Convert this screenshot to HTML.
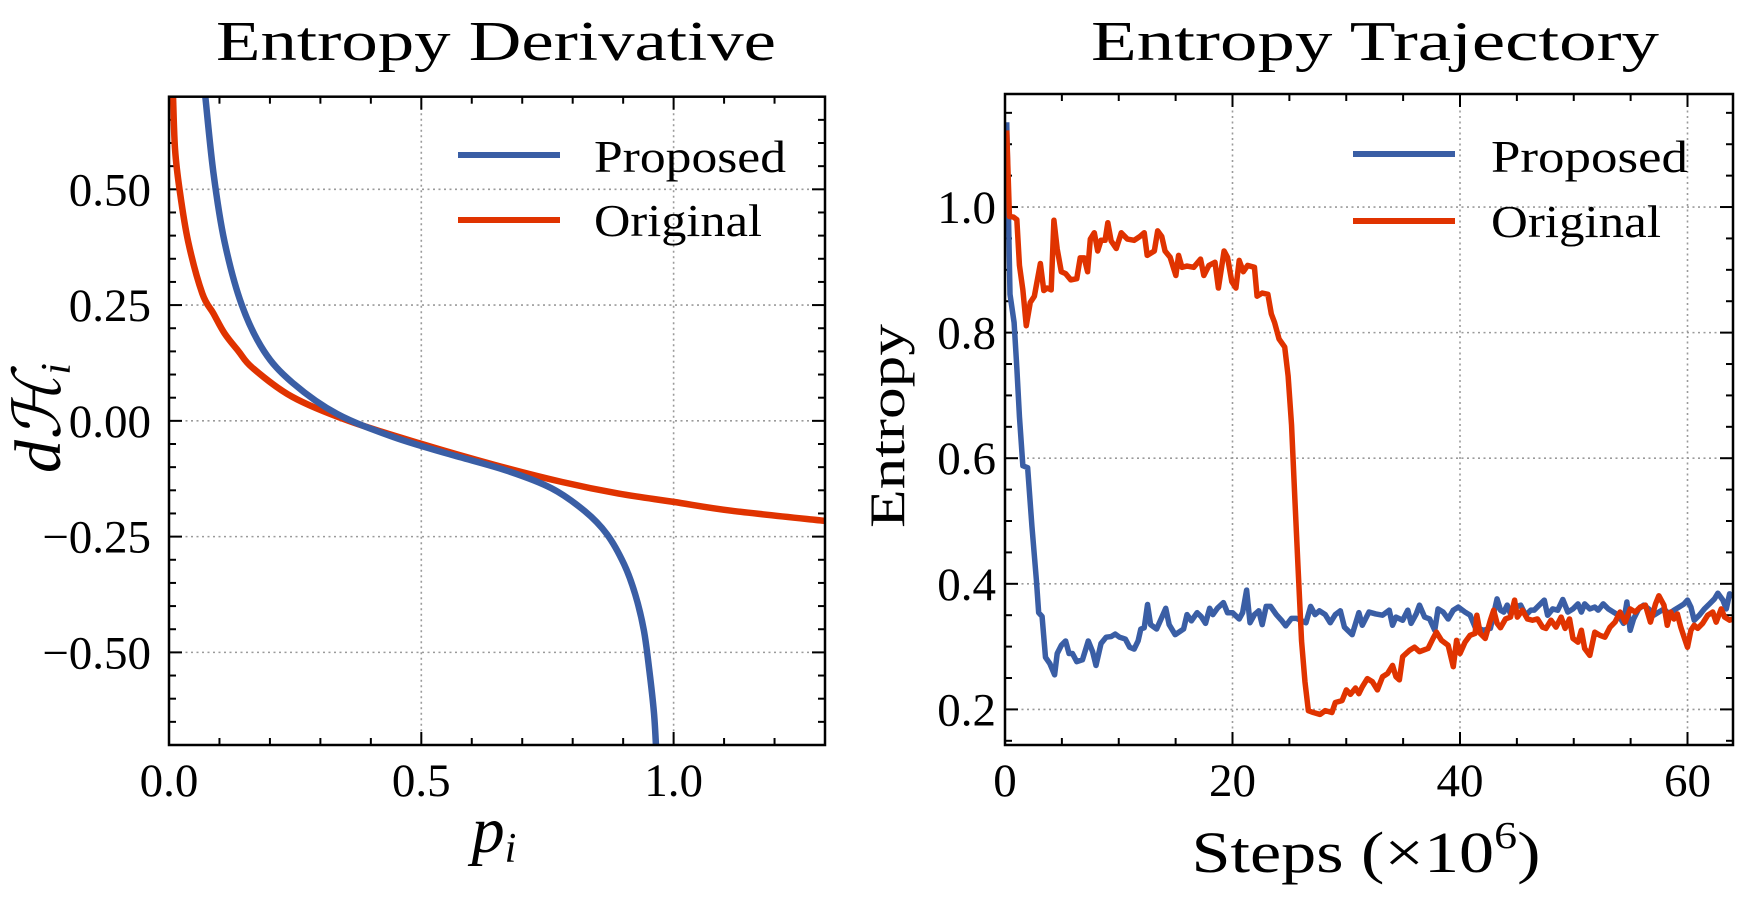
<!DOCTYPE html>
<html><head><meta charset="utf-8"><style>
html,body{margin:0;padding:0;background:#fff;}
svg{display:block;font-family:"Liberation Serif",serif;}
</style></head><body>
<svg id="fig" width="1761" height="901" viewBox="0 0 1761 901" xmlns="http://www.w3.org/2000/svg">
<defs>
<clipPath id="clipL"><rect x="169" y="96.7" width="656" height="648.3"/></clipPath>
<clipPath id="clipR"><rect x="1005" y="94" width="728" height="651"/></clipPath>
</defs>
<g id="left"></g>
<g id="right"></g>
</svg>
<script>
// ---- Left chart data ----
const leftPropP = [0.072,0.088,0.110,0.144,0.188,0.244,0.333,0.445,0.556,0.668,0.757,0.824,0.868,0.902,0.924,0.941,0.952,0.961,0.965];
const leftPropV = [0.70,0.536,0.387,0.251,0.151,0.083,0.015,-0.035,-0.072,-0.107,-0.145,-0.195,-0.245,-0.310,-0.375,-0.452,-0.540,-0.630,-0.70];
const leftOrigP = [0.008,0.012,0.021,0.038,0.066,0.088,0.110,0.138,0.166,0.244,0.356,0.501,0.645,0.779,0.891,1.0,1.114,1.30];
const leftOrigV = [0.70,0.586,0.499,0.387,0.275,0.232,0.189,0.150,0.114,0.052,0.0,-0.050,-0.095,-0.132,-0.157,-0.175,-0.194,-0.216];
const leftXTicks = [0.0,0.5,1.0];
const leftXTickLabels = ["0.0","0.5","1.0"];
const leftYTicks = [0.5,0.25,0,-0.25,-0.5];
const leftYTickLabels = ["0.50","0.25","0.00","\u22120.25","\u22120.50"];

// ---- Right chart data ----
const propSteps = [0.15,0.30,0.44,0.80,1.04,1.27,1.57,1.99,2.37,2.76,2.96,3.26,3.56,3.94,4.36,4.59,4.95,5.33,5.63,5.93,6.31,6.81,7.32,7.70,8.0,8.44,8.89,9.33,9.69,10.07,10.58,10.96,11.35,11.70,11.94,12.24,12.53,12.80,13.33,13.72,14.13,14.43,14.96,15.70,16.0,16.39,16.89,17.24,17.63,17.99,18.28,18.67,19.20,19.56,20.0,20.59,20.89,21.24,21.54,21.93,22.31,22.61,22.96,23.35,23.85,24.30,24.68,25.19,25.63,26.46,26.87,27.26,27.64,28.15,28.59,29.04,29.48,29.84,30.52,31.11,31.41,32.0,32.59,33.19,33.78,34.07,34.37,34.96,35.41,35.70,36.15,36.44,36.89,37.33,37.78,38.07,38.52,38.96,39.41,39.85,40.44,40.89,41.33,42.07,42.67,43.26,43.56,43.85,44.15,44.44,44.89,45.33,45.78,46.22,46.52,46.96,47.41,47.70,48.15,48.59,49.04,49.48,49.93,50.37,50.67,50.96,51.41,51.85,52.15,52.59,53.04,53.48,53.93,54.37,54.67,54.96,55.26,55.70,56.15,56.59,57.04,57.48,57.93,58.37,58.81,59.26,59.70,60.0,60.30,60.59,61.04,61.48,61.93,62.37,62.67,63.11,63.41,63.70,64.0];
const propEntropy = [1.135,0.992,0.861,0.816,0.744,0.666,0.588,0.585,0.491,0.406,0.354,0.348,0.283,0.273,0.255,0.289,0.302,0.309,0.289,0.289,0.276,0.279,0.309,0.292,0.270,0.305,0.315,0.316,0.320,0.315,0.312,0.299,0.296,0.309,0.328,0.330,0.367,0.335,0.328,0.344,0.361,0.335,0.319,0.328,0.351,0.341,0.354,0.348,0.337,0.361,0.351,0.361,0.370,0.354,0.354,0.344,0.354,0.390,0.338,0.351,0.357,0.335,0.364,0.364,0.351,0.342,0.333,0.345,0.345,0.338,0.364,0.351,0.357,0.351,0.338,0.351,0.357,0.331,0.319,0.354,0.334,0.355,0.352,0.350,0.358,0.334,0.347,0.342,0.358,0.337,0.352,0.366,0.347,0.344,0.326,0.360,0.355,0.344,0.358,0.363,0.355,0.350,0.331,0.326,0.329,0.376,0.358,0.355,0.366,0.352,0.363,0.366,0.350,0.358,0.358,0.366,0.374,0.350,0.360,0.358,0.375,0.355,0.360,0.368,0.355,0.368,0.360,0.363,0.358,0.368,0.360,0.355,0.350,0.337,0.371,0.326,0.344,0.360,0.366,0.360,0.350,0.355,0.360,0.352,0.358,0.363,0.368,0.374,0.363,0.342,0.350,0.360,0.368,0.376,0.385,0.374,0.360,0.384,0.380];
const origSteps = [0.15,0.39,0.74,1.04,1.27,1.57,1.87,2.22,2.58,3.11,3.41,3.70,4.06,4.30,4.59,4.95,5.33,5.78,6.31,6.61,6.96,7.26,7.50,7.85,8.15,8.44,8.80,9.04,9.33,9.78,10.22,10.76,11.35,11.85,12.24,12.50,13.13,13.42,13.78,14.07,14.52,15.02,15.26,15.56,16.0,16.59,17.19,17.48,17.93,18.46,18.76,19.26,19.56,19.94,20.30,20.59,20.95,21.33,21.93,22.16,22.61,23.11,23.41,23.70,24.09,24.59,24.89,25.19,25.48,25.78,26.07,26.37,26.67,27.11,27.70,28.15,28.74,29.04,29.63,30.01,30.37,30.81,31.11,31.41,31.85,32.30,32.74,33.19,33.63,34.07,34.37,34.67,34.96,35.56,36.0,36.44,37.19,37.63,37.93,38.37,38.96,39.41,39.70,40.0,40.44,40.89,41.33,41.48,41.78,42.22,42.67,42.96,43.26,43.56,44.0,44.44,44.80,45.04,45.48,45.93,46.37,46.81,47.26,47.56,48.0,48.44,48.89,49.24,49.63,49.93,50.37,50.67,50.96,51.41,51.85,52.30,52.74,53.19,53.63,54.07,54.52,54.96,55.41,55.85,56.30,56.74,57.19,57.48,57.93,58.22,58.52,58.81,59.11,59.41,59.70,60.0,60.30,60.59,60.89,61.33,61.78,62.22,62.52,62.96,63.26,63.70,64.0];
const origEntropy = [1.122,0.985,0.984,0.980,0.907,0.868,0.811,0.848,0.858,0.910,0.867,0.871,0.868,0.979,0.933,0.897,0.894,0.884,0.886,0.919,0.919,0.897,0.949,0.959,0.930,0.947,0.947,0.975,0.946,0.934,0.959,0.949,0.947,0.953,0.959,0.923,0.930,0.962,0.953,0.930,0.920,0.891,0.923,0.904,0.906,0.904,0.917,0.891,0.907,0.912,0.871,0.930,0.920,0.881,0.871,0.915,0.897,0.907,0.904,0.858,0.863,0.861,0.830,0.816,0.790,0.777,0.731,0.653,0.536,0.419,0.309,0.244,0.198,0.195,0.192,0.198,0.195,0.211,0.214,0.231,0.224,0.234,0.225,0.236,0.249,0.244,0.231,0.252,0.257,0.270,0.252,0.247,0.284,0.294,0.299,0.292,0.297,0.313,0.323,0.310,0.302,0.268,0.310,0.289,0.307,0.318,0.321,0.350,0.321,0.313,0.342,0.358,0.337,0.330,0.344,0.347,0.374,0.347,0.358,0.344,0.342,0.344,0.331,0.329,0.342,0.331,0.347,0.329,0.344,0.313,0.307,0.326,0.297,0.286,0.323,0.318,0.315,0.331,0.339,0.355,0.339,0.360,0.355,0.363,0.366,0.339,0.368,0.381,0.366,0.334,0.355,0.344,0.352,0.331,0.315,0.299,0.326,0.334,0.329,0.337,0.350,0.355,0.339,0.360,0.347,0.342,0.344];
const rightXTicks = [0,20,40,60];
const rightXTickLabels = ["0","20","40","60"];
const rightYTicks = [1.0,0.8,0.6,0.4,0.2];
const rightYTickLabels = ["1.0","0.8","0.6","0.4","0.2"];

const NS = "http://www.w3.org/2000/svg";
const BLUE = "#3a5ea5", RED = "#e03300";
function mk(parent, tag, attrs, text){
  const e = document.createElementNS(NS, tag);
  for (const k in attrs) e.setAttribute(k, attrs[k]);
  if (text !== undefined) e.textContent = text;
  parent.appendChild(e); return e;
}
function smoothPath(pts){
  let d = "M" + pts[0][0].toFixed(2) + "," + pts[0][1].toFixed(2);
  for (let i = 0; i < pts.length - 1; i++){
    const p0 = pts[Math.max(0,i-1)], p1 = pts[i], p2 = pts[i+1], p3 = pts[Math.min(pts.length-1,i+2)];
    const c1x = p1[0] + (p2[0]-p0[0])/6, c1y = p1[1] + (p2[1]-p0[1])/6;
    const c2x = p2[0] - (p3[0]-p1[0])/6, c2y = p2[1] - (p3[1]-p1[1])/6;
    d += " C" + c1x.toFixed(2)+","+c1y.toFixed(2)+" "+c2x.toFixed(2)+","+c2y.toFixed(2)+" "+p2[0].toFixed(2)+","+p2[1].toFixed(2);
  }
  return d;
}
function linePath(pts){ return pts.map((p,i)=>(i?"L":"M")+p[0].toFixed(2)+","+p[1].toFixed(2)).join(" "); }

function drawAxes(g, o){
  const X = v => o.x0 + (v - o.xmin)/(o.xmax - o.xmin)*(o.x1 - o.x0);
  const Y = v => o.y1 - (v - o.ymin)/(o.ymax - o.ymin)*(o.y1 - o.y0);
  o.xt.forEach(v => { if (X(v) > o.x0 + 2 && X(v) < o.x1 - 2){
    const l = mk(g,"line",{x1:X(v),x2:X(v),y1:o.y0,y2:o.y1,stroke:"#9a9a9a","stroke-width":1.6,"stroke-dasharray":"2,3.5"});
    
    
  }});
  o.yt.forEach(v => {
    const l = mk(g,"line",{x1:o.x0,x2:o.x1,y1:Y(v),y2:Y(v),stroke:"#9a9a9a","stroke-width":1.6,"stroke-dasharray":"2,3.5"});
    
    
  });
  const tk = mk(g,"g",{stroke:"#000","stroke-width":2});
  
  
  for (let v = o.xmin; v <= o.xmax + 1e-9; v += o.xminor){
    const vv = Math.round(v/o.xminor)*o.xminor;
    const major = o.xt.some(t => Math.abs(t - vv) < 1e-6);
    const L = major ? 13 : 7;
    mk(tk,"line",{x1:X(vv),x2:X(vv),y1:o.y1,y2:o.y1-L});
    mk(tk,"line",{x1:X(vv),x2:X(vv),y1:o.y0,y2:o.y0+L});
  }
  const ys = Math.ceil(o.ymin/o.yminor - 1e-9);
  for (let k = ys; k*o.yminor <= o.ymax + 1e-9; k++){
    const vv = k*o.yminor;
    const major = o.yt.some(t => Math.abs(t - vv) < 1e-6);
    const L = major ? 13 : 7;
    mk(tk,"line",{x1:o.x0,x2:o.x0+L,y1:Y(vv),y2:Y(vv)});
    mk(tk,"line",{x1:o.x1,x2:o.x1-L,y1:Y(vv),y2:Y(vv)});
  }
  o.xt.forEach((v,i) => {
    const t = mk(g,"text",{x:X(v),y:796,"text-anchor":"middle","font-size":47}, o.xl[i]);
    
    
  });
  o.yt.forEach((v,i) => {
    const t = mk(g,"text",{x:o.ylx,y:Y(v)+16,"text-anchor":"end","font-size":47}, o.yl[i]);
    
    
  });
  return {X, Y};
}
function drawFrame(g,o){
  const r = mk(g,"rect",{x:o.x0,y:o.y0,width:o.x1-o.x0,height:o.y1-o.y0,fill:"none",stroke:"#000","stroke-width":2.5});
  
  
}
function legend(g, lx0, lx1, tx, rows){
  const lg = mk(g,"g",{});
  
  
  rows.forEach(r => {
    const l = mk(lg,"line",{x1:lx0,x2:lx1,y1:r.y,y2:r.y,stroke:r.c,"stroke-width":6});
    
    
    const t = mk(lg,"text",{x:tx,y:r.ty,"font-size":46,textLength:r.w,lengthAdjust:"spacingAndGlyphs"}, r.label);
    
    
  });
}

// ---------- LEFT ----------
(function(){
  const g = document.getElementById("left");
  const o = {x0:169,x1:825,y0:96.7,y1:745,xmin:0,xmax:1.3,ymin:-0.70,ymax:0.70,
    xt:leftXTicks,xl:leftXTickLabels,yt:leftYTicks,yl:leftYTickLabels,xminor:0.1,yminor:0.05,ylx:151};
  const {X,Y} = drawAxes(g,o);
  const lines = mk(g,"g",{"clip-path":"url(#clipL)",fill:"none","stroke-width":6.5,"stroke-linejoin":"round"});
  const po = mk(lines,"path",{d:smoothPath(leftOrigP.map((p,i)=>[X(p),Y(leftOrigV[i])])),stroke:RED});
  
  
  const pp = mk(lines,"path",{d:smoothPath(leftPropP.map((p,i)=>[X(p),Y(leftPropV[i])])),stroke:BLUE});
  
  
  drawFrame(g,o);
  legend(g,458,560,594,[{key:"proposed",c:BLUE,y:155,ty:172,label:"Proposed",w:192},{key:"original",c:RED,y:220,ty:236,label:"Original",w:168}]);
  const t = mk(g,"text",{x:496,y:60,"text-anchor":"middle","font-size":56,textLength:560,lengthAdjust:"spacingAndGlyphs"},"Entropy Derivative");
  
  
  const xl = mk(g,"text",{x:494,y:852,"text-anchor":"middle","font-size":66,"font-style":"italic"});
  
  
  mk(xl,"tspan",{},"p");
  mk(xl,"tspan",{"font-size":42,dy:10},"i");
  const yl = mk(g,"text",{transform:"translate(60,418) rotate(-90)","text-anchor":"middle","font-size":66,"font-style":"italic"});
  
  
  mk(yl,"tspan",{},"d\u210B");
  mk(yl,"tspan",{"font-size":42,dy:10},"i");
})();

// ---------- RIGHT ----------
(function(){
  const g = document.getElementById("right");
  const o = {x0:1005,x1:1733,y0:94,y1:745,xmin:0,xmax:64,ymin:0.1433,ymax:1.18,
    xt:rightXTicks,xl:rightXTickLabels,yt:rightYTicks,yl:rightYTickLabels,xminor:5,yminor:0.05,ylx:996};
  const {X,Y} = drawAxes(g,o);
  const lines = mk(g,"g",{"clip-path":"url(#clipR)",fill:"none","stroke-width":5.5,"stroke-linejoin":"round"});
  const pb = mk(lines,"path",{d:linePath(propSteps.map((s,i)=>[X(s),Y(propEntropy[i])])),stroke:BLUE});
  
  
  const pr = mk(lines,"path",{d:linePath(origSteps.map((s,i)=>[X(s),Y(origEntropy[i])])),stroke:RED});
  
  
  drawFrame(g,o);
  legend(g,1353,1455,1491,[{key:"proposed",c:BLUE,y:154,ty:172,label:"Proposed",w:197},{key:"original",c:RED,y:221,ty:237,label:"Original",w:170}]);
  const t = mk(g,"text",{x:1375,y:60,"text-anchor":"middle","font-size":56,textLength:568,lengthAdjust:"spacingAndGlyphs"},"Entropy Trajectory");
  
  
  const xl = mk(g,"text",{x:1366,y:872,"text-anchor":"middle","font-size":58,textLength:349,lengthAdjust:"spacingAndGlyphs"});
  
  
  mk(xl,"tspan",{},"Steps (\u00D710");
  mk(xl,"tspan",{"font-size":38,dy:-24},"6");
  mk(xl,"tspan",{dy:24},")");
  const yl = mk(g,"text",{transform:"translate(904,426) rotate(-90)","text-anchor":"middle","font-size":50,textLength:204,lengthAdjust:"spacingAndGlyphs"},"Entropy");
  
  
})();
</script>
</body></html>
